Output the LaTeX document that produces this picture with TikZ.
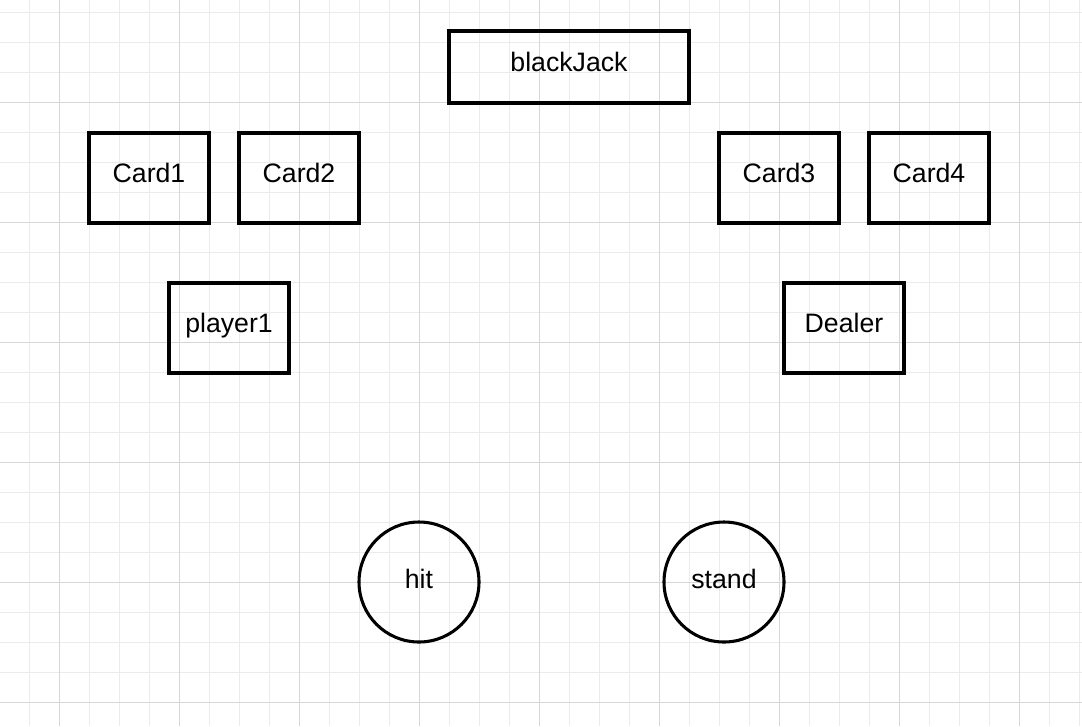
\documentclass[tikz,border=0pt]{standalone}
\usepackage{fontspec}
\setmainfont{Liberation Sans}
\usetikzlibrary{positioning}

\definecolor{gridminor}{HTML}{EBEBEB}
\definecolor{gridmajor}{HTML}{D6D6D6}

\tikzset{
  cardbox/.style={draw, line width=2.7pt, minimum width=90pt, minimum height=67.5pt,
    inner sep=0pt, font=\fontsize{20}{24}\selectfont, text height=10.5pt, text depth=3.5pt},
  gamebox/.style={cardbox, minimum width=180pt, minimum height=54pt},
  movecircle/.style={draw, circle, line width=2.3pt, minimum size=90pt, inner sep=0pt,
    font=\fontsize{20}{24}\selectfont, text height=11.5pt, text depth=2pt}
}

\begin{document}
\begin{tikzpicture}[x=0.75pt,y=-0.75pt,on grid]
\useasboundingbox (0,0) rectangle (1082,726);
\fill[white] (0,0) rectangle (1082,726);
% grid
\foreach \x in {29,59,...,1079} \draw[gridminor, line width=0.75pt] (\x,0) -- (\x,726);
\foreach \y in {12,42,...,722} \draw[gridminor, line width=0.75pt] (0,\y) -- (1082,\y);
\foreach \x in {59,179,...,1079} \draw[gridmajor, line width=0.75pt] (\x,0) -- (\x,726);
\foreach \y in {102,222,...,722} \draw[gridmajor, line width=0.75pt] (0,\y) -- (1082,\y);
% player side
\node[cardbox] (card1) at (149,178) {Card1};
\node[cardbox] (card2) [right=112.5pt of card1] {Card2};
\node[cardbox] (player1) [below right=112.5pt and 60pt of card1] {player1};
\node[gamebox] (blackjack) [above right=83.25pt and 202.5pt of card2] {blackJack};
% moves
\node[movecircle] (hit) [below right=190.5pt and 142.5pt of player1] {hit};
\node[movecircle] (stand) [right=228.75pt of hit] {stand};
% dealer side
\node[cardbox] (dealer) [above right=190.5pt and 90pt of stand] {Dealer};
\node[cardbox] (card4) [above right=112.5pt and 63.75pt of dealer] {Card4};
\node[cardbox] (card3) [left=112.5pt of card4] {Card3};
\end{tikzpicture}
\end{document}
